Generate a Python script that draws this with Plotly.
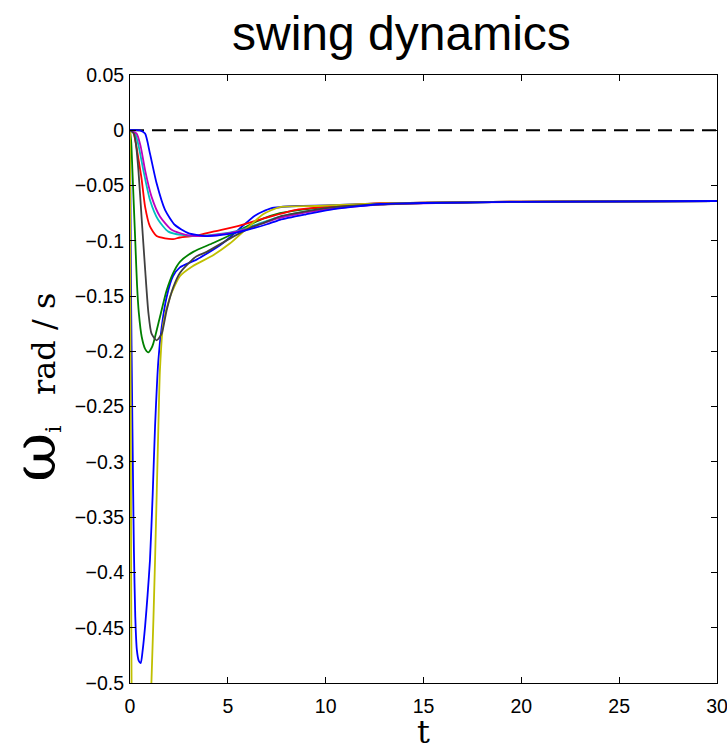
import plotly.graph_objects as go

# Frequency deviation of each generator node after the disturbance (rad/s)
T_B1 = [0, 0.03, 0.06, 0.1, 0.15, 0.2, 0.27, 0.35, 0.45, 0.55, 0.65, 0.77, 0.9, 1.02, 1.16, 1.28, 1.45,
        1.62, 1.87, 2.2, 2.55, 3.4, 4.25, 4.6, 5.1, 5.6, 6.4, 7.2, 8.5, 10, 12, 15, 20, 30]
W_B1 = [0, -0.08, -0.16, -0.23, -0.31, -0.38, -0.44, -0.47, -0.48, -0.482, -0.47, -0.449, -0.42, -0.389,
        -0.329, -0.268, -0.208, -0.178, -0.151, -0.132, -0.124, -0.117, -0.108, -0.104, -0.097, -0.089,
        -0.077, -0.0706, -0.0685, -0.068, -0.0667, -0.0655, -0.0645, -0.064]

T_G = [0, 0.06, 0.12, 0.2, 0.28, 0.36, 0.45, 0.6, 0.78, 0.94, 1.1, 1.19, 1.53, 1.87, 2.21, 2.55, 3.23,
       4.25, 5.1, 5.96, 6.8, 7.66, 9.37, 11.1, 13, 15, 20, 30]
W_G = [0, -0.01, -0.035, -0.07, -0.105, -0.14, -0.165, -0.187, -0.198, -0.201, -0.197, -0.193, -0.169,
       -0.145, -0.129, -0.119, -0.110, -0.102, -0.095, -0.087, -0.080, -0.075, -0.0706, -0.0685, -0.067,
       -0.0658, -0.0647, -0.064]

T_R = [0, 0.17, 0.3, 0.45, 0.6, 0.77, 1.02, 1.36, 1.79, 2.2, 2.55, 3.5, 4.25, 5.45, 6.8, 8.5, 11.1,
       12.8, 15, 20, 30]
W_R = [0, -0.002, -0.012, -0.028, -0.045, -0.069, -0.087, -0.0957, -0.0978, -0.0985, -0.097, -0.095,
       -0.0917, -0.087, -0.080, -0.072, -0.068, -0.066, -0.0655, -0.0645, -0.064]

T_C = [0, 0.26, 0.45, 0.68, 1.02, 1.44, 1.96, 2.64, 3.5, 4.5, 5.5, 6.5, 7.5, 8.5, 10, 12.8, 15, 20, 30]
W_C = [0, -0.003, -0.015, -0.036, -0.063, -0.081, -0.0917, -0.0947, -0.0955, -0.094, -0.091, -0.085,
       -0.079, -0.075, -0.071, -0.067, -0.0658, -0.0647, -0.064]

T_M = [0, 0.34, 0.55, 0.77, 1.1, 1.53, 2.13, 2.98, 3.8, 4.5, 5.5, 6.5, 7.5, 8.5, 10, 12.8, 15, 20, 30]
W_M = [0, -0.003, -0.015, -0.036, -0.060, -0.078, -0.090, -0.095, -0.0957, -0.0945, -0.0915, -0.086,
       -0.080, -0.076, -0.0715, -0.0672, -0.066, -0.0648, -0.064]

T_Y = [0, 0.02, 0.05, 0.08, 0.15, 0.3, 0.55, 0.8, 1.1, 1.28, 1.45, 1.53, 1.7, 2.04, 2.55, 3.2, 4.25,
       5.1, 5.96, 6.8, 7.66, 9.5, 12, 15, 20, 30]
W_Y = [0, -0.15, -0.35, -0.5, -0.58, -0.63, -0.64, -0.6, -0.497, -0.389, -0.268, -0.217, -0.175,
       -0.151, -0.132, -0.123, -0.113, -0.1025, -0.089, -0.076, -0.0695, -0.0685, -0.0667, -0.0655,
       -0.0645, -0.064]

T_K = [0, 0.2, 0.3, 0.43, 0.6, 0.77, 0.94, 1.1, 1.36, 1.62, 1.87, 2.21, 2.55, 3.07, 3.4, 3.92, 5.1,
       6.3, 6.8, 7.66, 8.5, 10.2, 12, 15, 20, 30]
W_K = [0, -0.003, -0.012, -0.036, -0.081, -0.125, -0.165, -0.184, -0.190, -0.184, -0.163, -0.142,
       -0.129, -0.119, -0.114, -0.110, -0.098, -0.087, -0.084, -0.078, -0.075, -0.070, -0.0675, -0.0658,
       -0.0647, -0.064]

T_B2 = [0, 0.51, 0.77, 1.02, 1.36, 1.79, 2.3, 2.98, 3.83, 5, 6, 7, 7.66, 9, 10.2, 12.8, 15, 20, 30]
W_B2 = [0, 0, -0.003, -0.021, -0.048, -0.072, -0.0857, -0.093, -0.0957, -0.094, -0.090, -0.085, -0.081,
        -0.076, -0.072, -0.0667, -0.0658, -0.0647, -0.064]

SERIES = [
    (T_B1, W_B1, "#0000ff"),
    (T_G, W_G, "#008000"),
    (T_R, W_R, "#ff0000"),
    (T_C, W_C, "#00bfbf"),
    (T_M, W_M, "#bf00bf"),
    (T_Y, W_Y, "#bfbf00"),
    (T_K, W_K, "#404040"),
    (T_B2, W_B2, "#0000ff"),
]

X_TICKS = [0, 5, 10, 15, 20, 25, 30]
Y_TICKS = [0.05, 0, -0.05, -0.1, -0.15, -0.2, -0.25, -0.3, -0.35, -0.4, -0.45, -0.5]
Y_LABELS = [("%g" % v).replace("-", "\u2212") for v in Y_TICKS]

fig = go.Figure()

fig.add_hline(y=0, line=dict(color="black", width=2, dash="14px,8px"), layer="below")

for t, w, color in SERIES:
    fig.add_trace(go.Scatter(
        x=t, y=w, mode="lines",
        line=dict(color=color, width=1.8, shape="spline", smoothing=0.6),
        showlegend=False, hoverinfo="skip",
    ))

axis_common = dict(
    showgrid=False, zeroline=False, showline=True, linecolor="black", linewidth=1,
    mirror="ticks", ticks="inside", ticklen=6, tickwidth=1, tickcolor="black",
    ticklabeloverflow="allow", automargin=False,
    tickfont=dict(family="Liberation Sans, Arial, sans-serif", size=19.5, color="black"),
)

fig.update_xaxes(range=[0, 30], tickvals=X_TICKS, ticklabelstandoff=6, **axis_common)
fig.update_yaxes(range=[-0.5, 0.05], tickvals=Y_TICKS, ticktext=Y_LABELS, ticklabelstandoff=1,
                 **axis_common)

fig.add_annotation(
    text="swing dynamics", xref="paper", yref="paper", x=(401 - 130) / 587, y=(683 - 33) / 608,
    xanchor="center", yanchor="middle", showarrow=False,
    font=dict(family="Liberation Sans, Arial, sans-serif", size=48, color="black"),
)
fig.add_annotation(
    text="t", xref="paper", yref="paper", x=0.5, y=(683 - 753) / 608,
    xanchor="center", yanchor="bottom", showarrow=False,
    font=dict(family="DejaVu Serif, serif", size=32, color="black"),
)
fig.add_annotation(
    text='<span style="font-size:60px">ω</span><sub>i</sub>\u00a0\u00a0\u00a0rad / s',
    xref="paper", yref="paper", x=-0.164, y=(683 - 387) / 608, textangle=-90,
    xanchor="center", yanchor="middle", showarrow=False,
    font=dict(family="DejaVu Serif, serif", size=32, color="black"),
)

fig.update_layout(
    width=727, height=753,
    margin=dict(l=130, r=10, t=75, b=70, autoexpand=False),
    paper_bgcolor="white", plot_bgcolor="white",
)

fig.write_html("out.html")
